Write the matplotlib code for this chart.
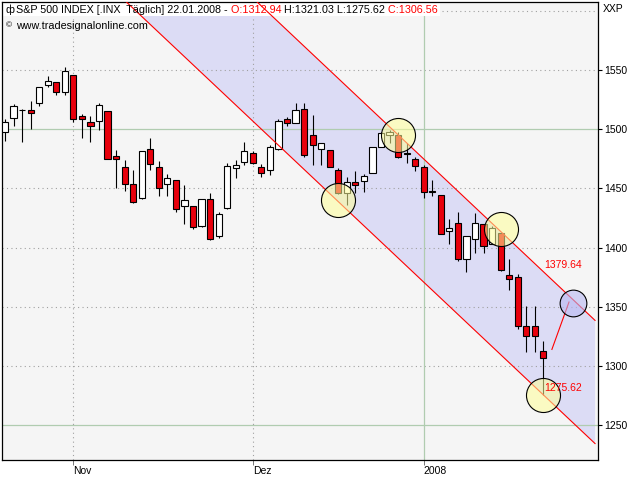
import pandas as pd
import matplotlib
matplotlib.use('Agg')
import matplotlib.pyplot as plt
from matplotlib import font_manager
from matplotlib.patches import Rectangle

# Daily bars (22.10.2007 - 22.01.2008, 21.01 is repeated)
opens = [1497.4, 1509.2, 1516.4, 1516.2, 1521.9, 1537.1, 1539.6, 1531.7,
         1545.8, 1510.9, 1506.1, 1506.7, 1515.1, 1477.1, 1467.8, 1453.5,
         1441.6, 1483.0, 1467.8, 1453.5, 1456.8, 1434.9, 1434.9, 1418.0,
         1440.8, 1409.5, 1433.2, 1467.0, 1472.0,
         1479.6, 1467.8, 1465.3, 1483.5, 1508.4, 1505.0, 1516.8, 1494.8,
         1483.0, 1482.2, 1465.3, 1445.9, 1455.1, 1456.0, 1462.8, 1484.7,
         1495.1, 1494.8, 1480.0, 1475.1,
         1467.8, 1447.6, 1444.4, 1413.8, 1420.5, 1390.1, 1407.0, 1419.7,
         1402.8, 1412.1, 1376.6, 1375.5, 1334.0, 1334.0, 1312.94]
highs = [1508.6, 1521.0, 1517.0, 1523.8, 1535.6, 1545.0, 1539.6, 1552.8,
         1545.8, 1512.8, 1511.1, 1521.8, 1515.4, 1482.4, 1474.0, 1465.5,
         1481.8, 1492.6, 1473.1, 1462.2, 1456.8, 1452.6, 1434.9, 1440.9,
         1445.9, 1429.8, 1471.2, 1474.0, 1489.0,
         1481.6, 1470.6, 1486.7, 1508.4, 1510.0, 1522.4, 1521.8, 1512.0,
         1488.6, 1482.2, 1467.5, 1459.4, 1464.4, 1461.9, 1485.2, 1497.4,
         1499.5, 1497.4, 1488.5, 1476.8,
         1470.0, 1457.0, 1444.4, 1423.9, 1430.0, 1409.4, 1429.0, 1419.9,
         1417.9, 1412.1, 1390.1, 1377.7, 1350.4, 1350.4, 1321.03]
lows = [1490.0, 1502.7, 1489.5, 1500.2, 1519.9, 1536.0, 1529.0, 1529.0,
        1506.3, 1492.8, 1489.5, 1499.6, 1474.6, 1450.6, 1448.0, 1437.9,
        1441.4, 1465.5, 1443.6, 1443.6, 1430.3, 1420.2, 1415.5, 1417.8,
        1406.2, 1407.8, 1433.0, 1458.5, 1469.5,
        1470.6, 1459.9, 1461.3, 1482.4, 1502.7, 1505.0, 1476.8, 1469.5,
        1469.5, 1467.8, 1445.3, 1436.0, 1445.9, 1447.2, 1462.8, 1484.7,
        1488.1, 1476.0, 1471.7, 1465.0,
        1441.6, 1443.7, 1411.2, 1402.8, 1389.0, 1379.0, 1395.2, 1395.0,
        1402.8, 1380.6, 1363.9, 1331.0, 1312.1, 1312.1, 1275.62]
closes = [1506.3, 1519.6, 1515.9, 1514.0, 1535.4, 1540.4, 1531.2, 1548.9,
          1508.4, 1508.9, 1502.4, 1520.4, 1475.1, 1474.6, 1453.5, 1438.8,
          1481.6, 1470.3, 1450.6, 1458.5, 1432.8, 1440.0, 1417.1, 1440.8,
          1407.0, 1428.1, 1468.6, 1469.5, 1481.3,
          1471.7, 1462.8, 1484.7, 1507.2, 1505.0, 1516.0, 1478.0, 1486.4,
          1488.6, 1467.8, 1445.9, 1455.1, 1452.6, 1460.2, 1484.7, 1496.5,
          1497.4, 1476.2, 1479.2, 1468.6,
          1446.7, 1447.2, 1411.5, 1416.3, 1390.1, 1409.4, 1420.5, 1401.1,
          1416.3, 1380.8, 1373.3, 1333.5, 1325.0, 1325.0, 1306.56]

holidays = ['2007-11-22', '2007-12-25', '2008-01-01']
dates = pd.bdate_range('2007-10-22', '2008-01-22').drop(pd.to_datetime(holidays))
month_labels = ['Nov', 'Dez', '2008']

# regression channel, value at the last bar and slope per bar
chan_upper = 1379.64
chan_lower = 1275.62
chan_slope = -6.8
chan_stop = 69.05

# marked touch points and the drawn projection
circle_idx = [39, 46, 58, 63]
circle_val = [1440.0, 1495.0, 1416.0, 1275.62]
target_idx = [66.5]
target_val = [1353.0]
proj_idx = [64.0, 66.0]
proj_val = [1314.0, 1354.0]

grid_levels = [1250, 1300, 1350, 1400, 1450, 1500, 1550, 1600]
major_levels = [1250, 1500]
ytick_levels = [1250, 1300, 1350, 1400, 1450, 1500, 1550]

BG = '#f5f5f5'
RED = '#e8000c'
names = {f.name for f in font_manager.fontManager.ttflist}
FONT = next((n for n in ['Liberation Sans Narrow', 'DejaVu Sans Condensed', 'Liberation Sans']
             if n in names), 'DejaVu Sans')
FS = 9 if 'Narrow' in FONT or 'Condensed' in FONT else 7.5
plt.rcParams['font.family'] = [FONT, 'DejaVu Sans']
plt.rcParams['font.size'] = FS

fig = plt.figure(figsize=(6.4, 4.8), dpi=100, facecolor='white')
ax = fig.add_axes([2 / 640, 20 / 480, 596.3 / 640, 458 / 480])
ax.set_facecolor(BG)

n = len(closes)
xs = list(range(n))
ax.set_xlim(-0.35, 69.43)
ax.set_ylim(1220.6, 1607.4)

# channel
cx = [0, chan_stop]
up_line = [chan_upper + chan_slope * (x - (n - 1)) for x in cx]
lo_line = [chan_lower + chan_slope * (x - (n - 1)) for x in cx]
ax.fill_between(cx, lo_line, up_line, color='#dcdcf5', lw=0, zorder=1)
ax.plot(cx, up_line, color='red', lw=0.8, zorder=4)
ax.plot(cx, lo_line, color='red', lw=0.8, zorder=4)

# grid
for lvl in grid_levels:
    if lvl in major_levels:
        ax.axhline(lvl, color='#b0ccb0', lw=0.9, zorder=2)
    else:
        ax.axhline(lvl, color='#a0a0a0', lw=0.8, ls=(0, (1, 3)), zorder=2)
month_pos = [i for i in range(1, n) if dates[i].month != dates[i - 1].month]
for pos in month_pos:
    if dates[pos].month == 1:
        ax.axvline(pos, color='#b0ccb0', lw=0.9, zorder=2)
    else:
        ax.axvline(pos, color='#a0a0a0', lw=0.8, ls=(0, (1, 3)), zorder=2)

# header strip hides grid and channel under the title line
ax.add_patch(Rectangle((0, 1 - 13.5 / 458), 0.7345, 13.5 / 458, transform=ax.transAxes,
                       facecolor='white', edgecolor='none', zorder=2.5))

# candles
ax.vlines(xs, lows, highs, color='black', lw=0.8, zorder=3)
body_col = ['white' if c > o else RED for o, c in zip(opens, closes)]
heights = [c - o for o, c in zip(opens, closes)]
ax.bar(xs, heights, bottom=opens, width=0.72, color=body_col, edgecolor='black',
       lw=0.8, zorder=3.5)

# circles and projection
ax.scatter(circle_idx, circle_val, s=600, facecolor=(1, 1, 0.6, 0.55),
           edgecolor='black', lw=0.8, zorder=5)
ax.scatter(target_idx, target_val, s=370, facecolor=(0.72, 0.72, 0.95, 0.6),
           edgecolor='black', lw=0.8, zorder=5)
ax.plot(proj_idx, proj_val, color='red', lw=0.8, zorder=4)

for val in [chan_upper, chan_lower]:
    ax.annotate(f'{val:.2f}', xy=(n - 1, val), xytext=(0.5, 5), textcoords='offset points',
                ha='left', va='center', color='red', zorder=6)

# header
HFS = FS * 1.035
ax.annotate('\u0444', xy=(0, 1), xycoords='axes fraction', xytext=(2.5, -5.5),
            textcoords='offset points', ha='left', va='center', fontsize=HFS, zorder=6)
pieces = ['S&P 500 INDEX [.INX  T\u00e4glich] 22.01.2008 -', ' O:1312.94',
          ' H:1321.03 L:1275.62', ' C:1306.56']
colors = ['black', 'red', 'black', 'red']
prev = ax.annotate(pieces[0], xy=(0, 1), xycoords='axes fraction', xytext=(10, -5.5),
                   textcoords='offset points', ha='left', va='center', fontsize=HFS,
                   zorder=6)
for txt, col in zip(pieces[1:], colors[1:]):
    prev = ax.annotate(txt, xy=(1, 0), xycoords=prev, ha='left', va='bottom',
                       color=col, fontsize=HFS, zorder=6)
ax.annotate('\u00a9', xy=(0, 1), xycoords='axes fraction', xytext=(3, -17),
            textcoords='offset points', ha='left', va='center', fontsize=6, zorder=6)
ax.annotate('www.tradesignalonline.com', xy=(0, 1), xycoords='axes fraction',
            xytext=(10, -17.5), textcoords='offset points', ha='left', va='center',
            fontsize=HFS, zorder=6)
fig.text(603 / 640, 1 - 9 / 480, 'XXP', ha='left', va='center')

# axes
ax.yaxis.tick_right()
ax.set_yticks(ytick_levels)
ax.set_yticklabels([str(v) for v in ytick_levels])
ax.tick_params(axis='y', length=3, width=0.8, pad=1.5)
ax.set_xticks(month_pos)
ax.set_xticklabels(month_labels)
ax.tick_params(axis='x', length=3.5, width=0.6, pad=1, color='#606060')
for lab in ax.get_xticklabels():
    lab.set_horizontalalignment('left')
for sp in ax.spines.values():
    sp.set_linewidth(0.9)
    sp.set_color('black')

fig.savefig('out.png', dpi=100, facecolor='white')
